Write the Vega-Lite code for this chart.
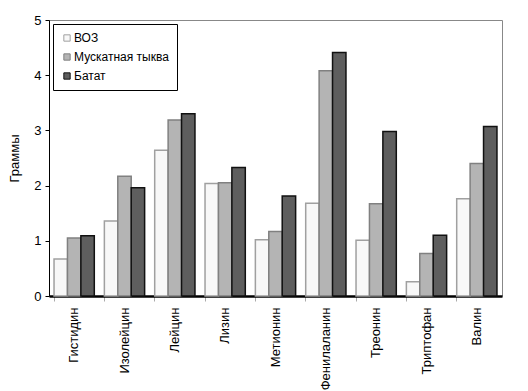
{
  "$schema": "https://vega.github.io/schema/vega-lite/v6.json",
  "autosize": {"type": "none"},
  "padding": {"left": 49, "top": 20, "right": 26, "bottom": 95},
  "width": 453,
  "height": 276,
  "background": "white",
  "config": {
    "font": "Liberation Sans",
    "view": {"stroke": "#888888", "strokeWidth": 1}
  },
  "data": {
    "values": [
      {"acid": "Гистидин", "series": "ВОЗ", "v": 0.67},
      {"acid": "Гистидин", "series": "Мускатная тыква", "v": 1.05},
      {"acid": "Гистидин", "series": "Батат", "v": 1.09},
      {"acid": "Изолейцин", "series": "ВОЗ", "v": 1.36},
      {"acid": "Изолейцин", "series": "Мускатная тыква", "v": 2.17},
      {"acid": "Изолейцин", "series": "Батат", "v": 1.96},
      {"acid": "Лейцин", "series": "ВОЗ", "v": 2.64},
      {"acid": "Лейцин", "series": "Мускатная тыква", "v": 3.19},
      {"acid": "Лейцин", "series": "Батат", "v": 3.3},
      {"acid": "Лизин", "series": "ВОЗ", "v": 2.04},
      {"acid": "Лизин", "series": "Мускатная тыква", "v": 2.05},
      {"acid": "Лизин", "series": "Батат", "v": 2.33},
      {"acid": "Метионин", "series": "ВОЗ", "v": 1.02},
      {"acid": "Метионин", "series": "Мускатная тыква", "v": 1.17},
      {"acid": "Метионин", "series": "Батат", "v": 1.81},
      {"acid": "Фенилаланин", "series": "ВОЗ", "v": 1.68},
      {"acid": "Фенилаланин", "series": "Мускатная тыква", "v": 4.08},
      {"acid": "Фенилаланин", "series": "Батат", "v": 4.41},
      {"acid": "Треонин", "series": "ВОЗ", "v": 1.01},
      {"acid": "Треонин", "series": "Мускатная тыква", "v": 1.67},
      {"acid": "Треонин", "series": "Батат", "v": 2.98},
      {"acid": "Триптофан", "series": "ВОЗ", "v": 0.26},
      {"acid": "Триптофан", "series": "Мускатная тыква", "v": 0.77},
      {"acid": "Триптофан", "series": "Батат", "v": 1.1},
      {"acid": "Валин", "series": "ВОЗ", "v": 1.76},
      {"acid": "Валин", "series": "Мускатная тыква", "v": 2.4},
      {"acid": "Валин", "series": "Батат", "v": 3.07}
    ]
  },
  "mark": {"type": "bar", "strokeWidth": 1.5},
  "encoding": {
    "x": {
      "field": "acid",
      "type": "nominal",
      "sort": null,
      "scale": {"paddingInner": 0.2, "paddingOuter": 0.1},
      "axis": {
        "title": null,
        "labelAngle": -90,
        "labelFont": "Liberation Sans",
        "labelFontSize": 13,
        "labelColor": "#000000",
        "labelPadding": 6,
        "bandPosition": 0,
        "tickColor": "#aaaaaa",
        "tickSize": 5,
        "domainColor": "#000000",
        "domainWidth": 2.5
      }
    },
    "xOffset": {
      "field": "series",
      "type": "nominal",
      "sort": ["ВОЗ", "Мускатная тыква", "Батат"],
      "scale": {"paddingInner": 0, "paddingOuter": 0}
    },
    "y": {
      "field": "v",
      "type": "quantitative",
      "scale": {"domain": [0, 5], "nice": false},
      "axis": {
        "title": "Граммы",
        "titleFont": "Liberation Sans",
        "titleFontSize": 13,
        "titleFontWeight": "normal",
        "titleColor": "#000000",
        "titlePadding": 12,
        "values": [0, 1, 2, 3, 4, 5],
        "grid": false,
        "labelFont": "Liberation Sans",
        "labelFontSize": 13,
        "labelColor": "#000000",
        "labelPadding": 4,
        "tickColor": "#000000",
        "tickSize": 4,
        "domainColor": "#000000"
      }
    },
    "fill": {
      "field": "series",
      "type": "nominal",
      "sort": ["ВОЗ", "Мускатная тыква", "Батат"],
      "scale": {"domain": ["ВОЗ", "Мускатная тыква", "Батат"], "range": ["#f8f8f8", "#b4b4b4", "#5e5e5e"]},
      "legend": {
        "title": null,
        "orient": "none",
        "legendX": 4,
        "legendY": 4,
        "symbolType": "square",
        "symbolSize": 40,
        "symbolStrokeColor": "#333333",
        "symbolStrokeWidth": 1,
        "labelFont": "Liberation Sans",
        "labelFontSize": 12,
        "labelColor": "#000000",
        "labelOffset": 1,
        "rowPadding": 7,
        "padding": 8,
        "strokeColor": "#000000",
        "fillColor": "#ffffff",
        "labelLimit": 200
      }
    },
    "stroke": {
      "field": "series",
      "type": "nominal",
      "scale": {"domain": ["ВОЗ", "Мускатная тыква", "Батат"], "range": ["#a0a0a0", "#808080", "#111111"]},
      "legend": null
    }
  }
}
